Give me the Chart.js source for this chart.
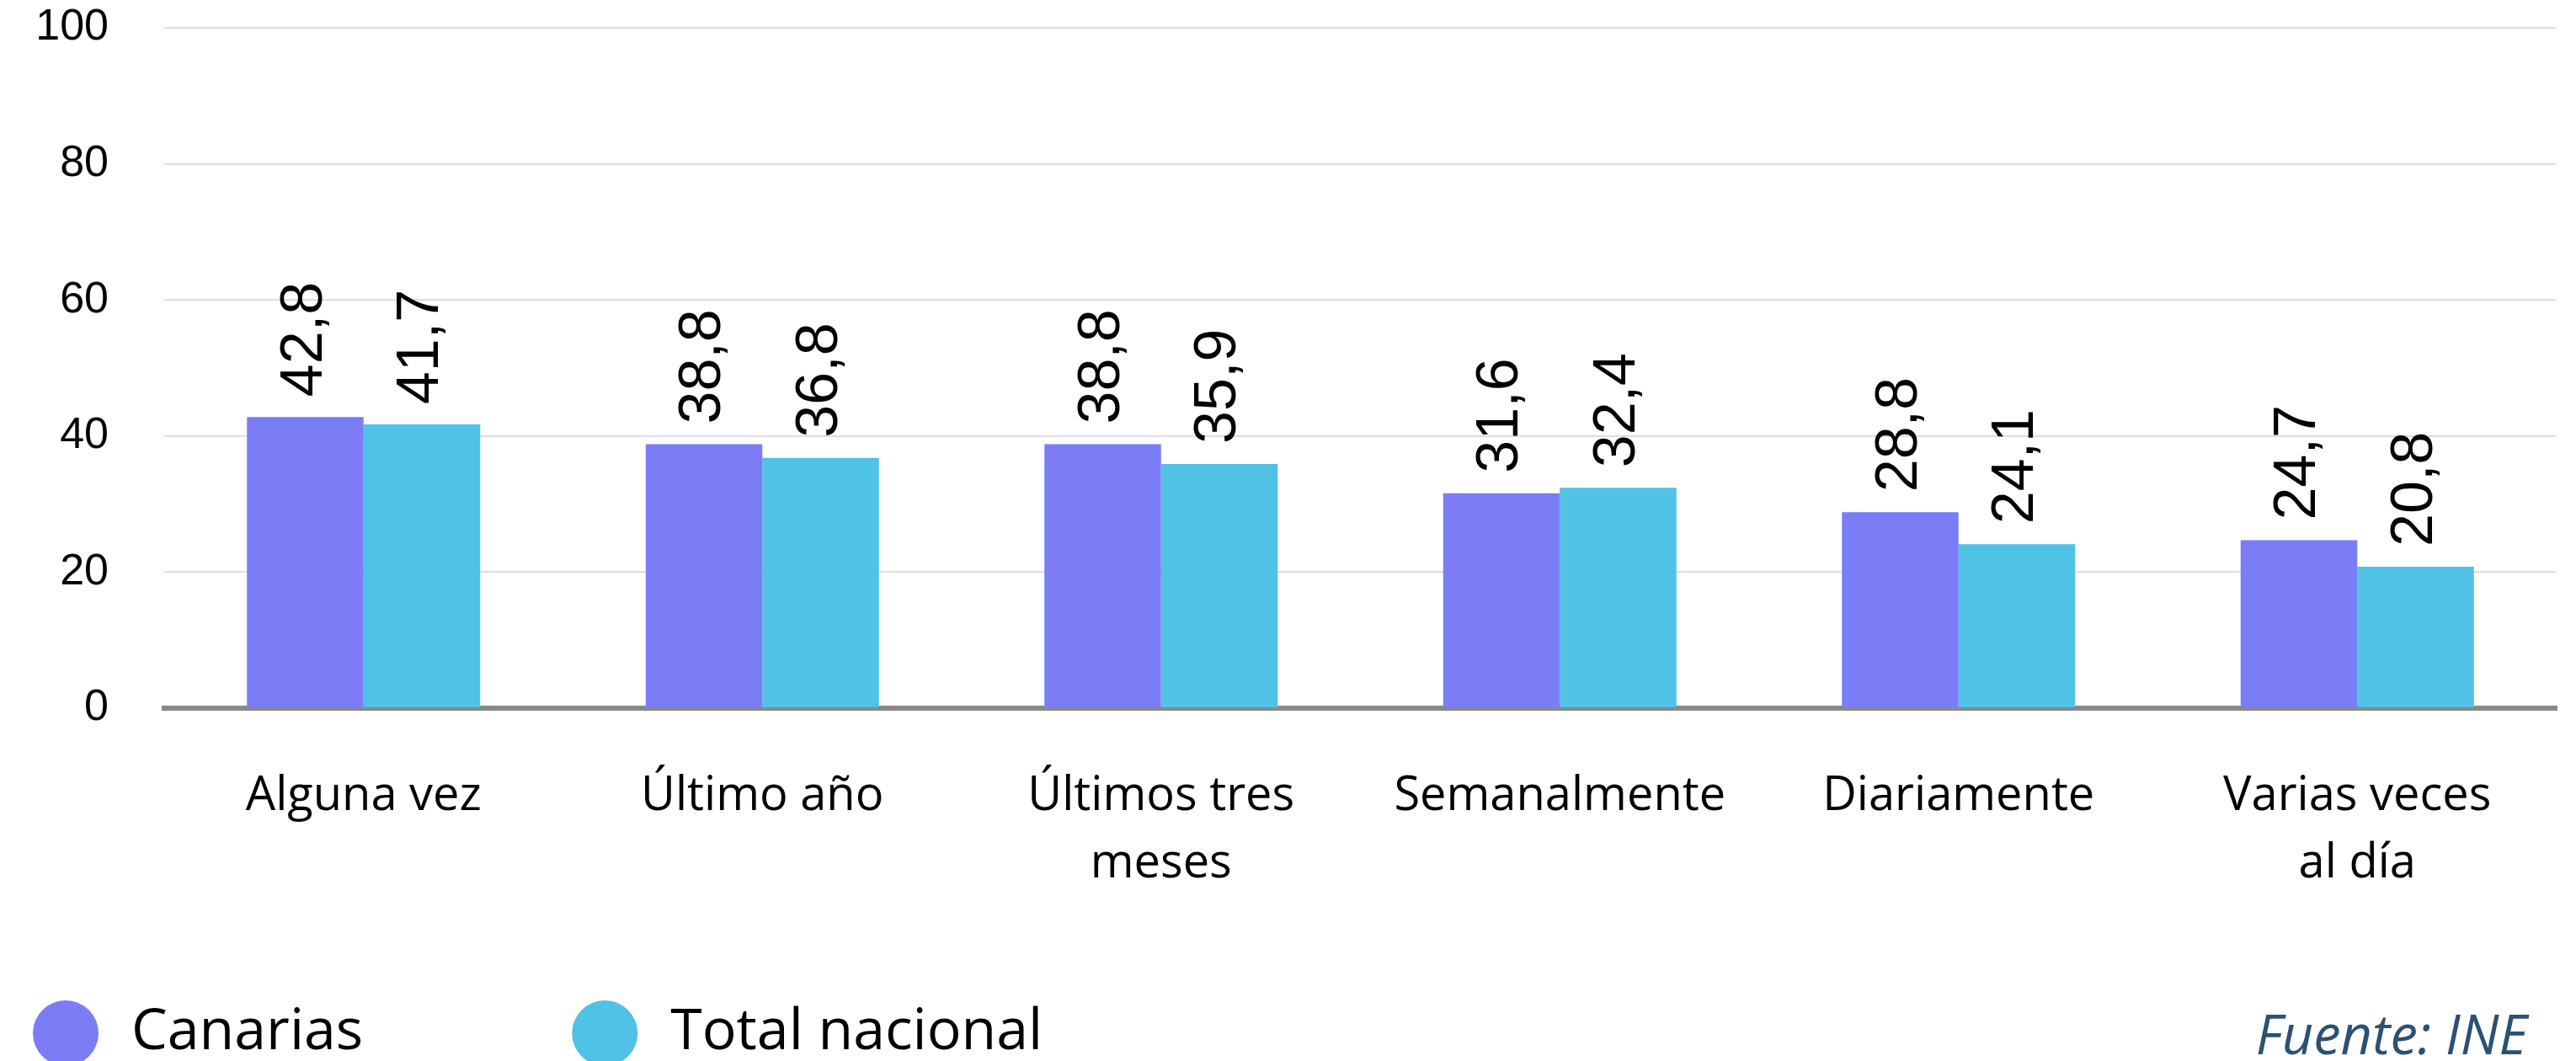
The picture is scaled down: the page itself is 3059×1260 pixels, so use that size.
<!DOCTYPE html>
<html>
<head>
<meta charset="utf-8">
<script src="https://cdn.jsdelivr.net/npm/chart.js@4.4.0/dist/chart.umd.min.js"></script>
<style>
  html, body { margin: 0; padding: 0; background: #fff; overflow: hidden; }
  #wrap { position: relative; width: 3059px; height: 1260px; }
  #fuente {
    position: absolute; right: 58px; top: 1195px;
    font-family: "Open Sans"; font-style: italic; font-size: 65px; line-height: 1;
    color: #2b5173;
  }
</style>
</head>
<body>
<div id="wrap">
  <canvas id="chart" width="3059" height="1260"></canvas>
  <div id="fuente">Fuente: INE</div>
</div>
<script>
var categorias = ['Alguna vez', 'Último año', ['Últimos tres', 'meses'], 'Semanalmente', 'Diariamente', ['Varias veces', 'al día']];
var canarias = [42.8, 38.8, 38.8, 31.6, 28.8, 24.7];
var totalNacional = [41.7, 36.8, 35.9, 32.4, 24.1, 20.8];
var yTicks = [0, 20, 40, 60, 80, 100];

// etiquetas verticales encima de cada barra
var etiquetasPlugin = {
    id: 'etiquetas',
    afterDatasetsDraw: function(chart) {
        var ctx = chart.ctx;
        ctx.save();
        ctx.font = '70px "Liberation Sans"';
        ctx.fillStyle = '#000';
        ctx.textAlign = 'left';
        ctx.textBaseline = 'middle';
        chart.data.datasets.forEach(function(ds, i) {
            chart.getDatasetMeta(i).data.forEach(function(bar, j) {
                ctx.save();
                ctx.translate(bar.x, bar.y - 24);
                ctx.rotate(-Math.PI / 2);
                ctx.fillText(ds.data[j].toFixed(1).replace('.', ','), 0, 0);
                ctx.restore();
            });
        });
        ctx.restore();
    }
};

// leyenda abajo a la izquierda
var leyendaPlugin = {
    id: 'leyenda',
    afterDraw: function(chart) {
        var ctx = chart.ctx;
        var x = 39, y = 1227, r = 39;
        ctx.save();
        ctx.font = '68px "Open Sans"';
        ctx.textAlign = 'left';
        ctx.textBaseline = 'middle';
        chart.data.datasets.forEach(function(ds) {
            ctx.fillStyle = ds.backgroundColor;
            ctx.beginPath();
            ctx.arc(x + r, y, r, 0, Math.PI * 2);
            ctx.fill();
            ctx.fillStyle = '#000';
            ctx.fillText(ds.label, x + 2 * r + 39, y);
            x += 2 * r + 39 + ctx.measureText(ds.label).width + 248;
        });
        ctx.restore();
    }
};

new Chart(document.getElementById('chart'), {
    type: 'bar',
    data: {
        labels: categorias,
        datasets: [{
            label: 'Canarias',
            data: canarias,
            backgroundColor: '#7b7df7'
        }, {
            label: 'Total nacional',
            data: totalNacional,
            backgroundColor: '#50c2e6'
        }]
    },
    options: {
        responsive: false,
        animation: false,
        devicePixelRatio: 1,
        categoryPercentage: 0.585,
        barPercentage: 1,
        layout: { padding: { top: 33, right: 23, bottom: 0, left: 0 } },
        plugins: {
            legend: { display: false },
            tooltip: { enabled: false }
        },
        scales: {
            x: {
                grid: { display: false },
                border: { display: true, color: '#888888', width: 6 },
                ticks: {
                    color: '#000',
                    padding: 57,
                    maxRotation: 0,
                    autoSkip: false,
                    font: { family: 'Open Sans', size: 56, lineHeight: 1.43 }
                },
                afterFit: function(scale) { scale.height = 419; }
            },
            y: {
                min: 0,
                max: 100,
                grid: { color: '#dddddd', lineWidth: 2, drawTicks: false },
                border: { display: false },
                ticks: {
                    color: '#000',
                    padding: 66,
                    font: { family: 'Liberation Sans', size: 52 }
                },
                afterBuildTicks: function(scale) {
                    scale.ticks = yTicks.map(function(v) { return { value: v }; });
                },
                afterFit: function(scale) {
                    scale.width = 195;
                    scale.paddingTop = 0;
                    scale.paddingBottom = 0;
                }
            }
        }
    },
    plugins: [etiquetasPlugin, leyendaPlugin]
});
</script>
</body>
</html>
